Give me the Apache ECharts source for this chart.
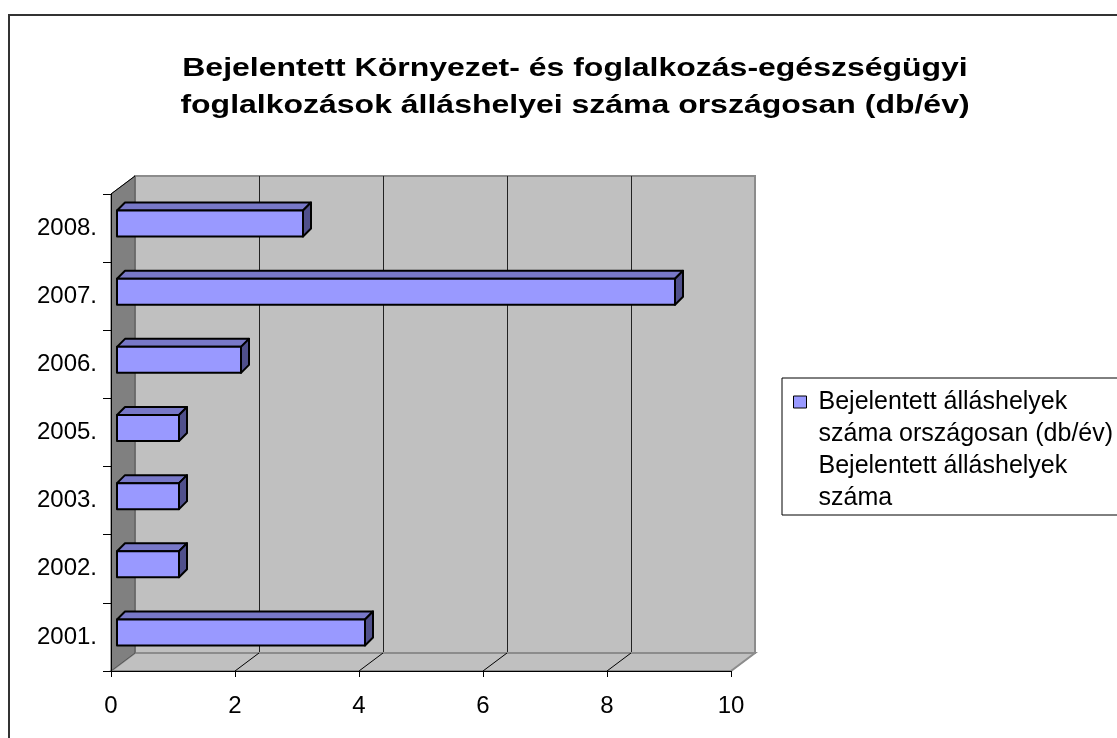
<!DOCTYPE html>
<html>
<head>
<meta charset="utf-8">
<script src="https://cdn.jsdelivr.net/npm/echarts@6/dist/echarts.min.js"></script>
<style>
  html, body { margin: 0; padding: 0; background: #fff; }
  #chart { width: 1117px; height: 738px; }
</style>
</head>
<body>
<div id="chart"></div>
<script>
const years = ['2001.', '2002.', '2003.', '2005.', '2006.', '2007.', '2008.'];
const jobs = [4, 1, 1, 1, 2, 9, 3];
const xTicks = [0, 2, 4, 6, 8, 10];
const seriesName = 'Bejelentett álláshelyek\nszáma országosan (db/év)\nBejelentett álláshelyek\nszáma';
const titleText = 'Bejelentett Környezet- és foglalkozás-egészségügyi\nfoglalkozások álláshelyei száma országosan (db/év)';

const FONT = "Arial, 'Liberation Sans', sans-serif";
// depth of the 3d box (back wall offset)
const DX = 24, DY = -18;

const myChart = echarts.init(document.getElementById('chart'));

function renderBar(params, api) {
    const c = api.value(1);
    const p0 = api.coord([0, c]);
    const p1 = api.coord([api.value(0), c]);
    const h = 26, ox = 6, oy = -4.5, dx = 8, dy = -8;
    const x0 = p0[0] + ox, x1 = p1[0] + ox;
    const yt = p0[1] + oy - h / 2;
    const line = { stroke: '#000', lineWidth: 2, lineJoin: 'round' };
    return {
        type: 'group',
        children: [
            { type: 'polygon', shape: { points: [[x0, yt], [x0 + dx, yt + dy], [x1 + dx, yt + dy], [x1, yt]] },
              style: Object.assign({ fill: '#7878c8' }, line) },
            { type: 'polygon', shape: { points: [[x1, yt], [x1 + dx, yt + dy], [x1 + dx, yt + dy + h], [x1, yt + h]] },
              style: Object.assign({ fill: '#50508c' }, line) },
            { type: 'rect', shape: { x: x0, y: yt, width: x1 - x0, height: h },
              style: Object.assign({ fill: '#9999ff' }, line) }
        ]
    };
}

const option = {
    animation: false,
    textStyle: { fontFamily: FONT },
    legend: {
        left: 793,
        top: 290,
        padding: 0,
        itemWidth: 13,
        itemHeight: 12,
        icon: 'rect',
        selectedMode: false,
        itemStyle: { borderColor: '#000', borderWidth: 1 },
        // blank lines on top so the icon sits beside the first line
        formatter: name => '\n\n\n' + name,
        textStyle: { fontFamily: FONT, fontSize: 25, color: '#000', lineHeight: 32, padding: [0, 0, 0, 7] },
        data: [seriesName]
    },
    grid: [
        { left: 111, top: 194, width: 620, height: 477 },
        { left: 135, top: 176, width: 620, height: 477, show: true,
          backgroundColor: '#c0c0c0', borderColor: '#8c8c8c', borderWidth: 2 }
    ],
    xAxis: [
        { gridIndex: 0, type: 'value', min: xTicks[0], max: xTicks[xTicks.length - 1], interval: 2, z: 10,
          axisLine: { show: true, lineStyle: { color: '#000', width: 1 } },
          axisTick: { show: true, length: 6, lineStyle: { color: '#000' } },
          axisLabel: { color: '#000', fontSize: 24, margin: 23, fontFamily: FONT },
          splitLine: { show: false } },
        { gridIndex: 1, type: 'value', min: xTicks[0], max: xTicks[xTicks.length - 1], interval: 2,
          axisLine: { show: false }, axisTick: { show: false }, axisLabel: { show: false },
          splitLine: { show: true, showMinLine: false, showMaxLine: false, lineStyle: { color: '#222', width: 1 } } }
    ],
    yAxis: [
        { gridIndex: 0, type: 'category', data: years, z: 10,
          axisLine: { show: true, lineStyle: { color: '#000', width: 1 } },
          axisTick: { show: true, length: 8, lineStyle: { color: '#000' } },
          axisLabel: { color: '#000', fontSize: 24, margin: 14, fontFamily: FONT },
          splitLine: { show: false } },
        { gridIndex: 1, type: 'category', data: years, show: false }
    ],
    series: [{
        name: seriesName,
        type: 'custom',
        xAxisIndex: 0,
        yAxisIndex: 0,
        z: 5,
        itemStyle: { color: '#9999ff' },
        renderItem: renderBar,
        data: jobs.map((v, i) => [v, i])
    }]
};

myChart.setOption(option);

// walls and floor of the 3d frame, placed from the axis scales
const xf = v => myChart.convertToPixel({ xAxisIndex: 0 }, v);
const fy = 194 + 477;
const wallTop = 194;
const left = xf(0), right = xf(10);
const graphics = [
    { type: 'rect', shape: { x: 9, y: 15, width: 1200, height: 800 }, style: { fill: 'none', stroke: '#333', lineWidth: 2 }, z: 0 },
    // title, stretched wide like the original export
    { type: 'text', x: 575, y: 50, scaleX: 1.23, z: 3,
      style: { text: titleText, font: 'bold 26px ' + FONT, fill: '#000', align: 'center', verticalAlign: 'top', lineHeight: 37 } },
    { type: 'polygon', z: 1, shape: { points: [[left, fy], [left + DX, fy + DY], [right + DX, fy + DY], [right, fy]] },
      style: { fill: '#c0c0c0', stroke: '#8c8c8c', lineWidth: 2 } },
    { type: 'polygon', z: 1, shape: { points: [[left, wallTop], [left + DX, wallTop + DY], [left + DX, fy + DY], [left, fy]] },
      style: { fill: '#808080', stroke: '#555', lineWidth: 1 } },
    { type: 'line', z: 2, shape: { x1: left, y1: wallTop, x2: left + DX, y2: wallTop + DY }, style: { stroke: '#000', lineWidth: 1 } },
    { type: 'rect', z: 1, shape: { x: 782, y: 378, width: 400, height: 137 }, style: { fill: '#fff', stroke: '#000', lineWidth: 1 } }
];
xTicks.slice(1, -1).forEach(t => {
    const x = xf(t);
    graphics.push({ type: 'line', z: 2, shape: { x1: x, y1: fy, x2: x + DX, y2: fy + DY }, style: { stroke: '#000', lineWidth: 1 } });
});
myChart.setOption({ graphic: graphics });
</script>
</body>
</html>
